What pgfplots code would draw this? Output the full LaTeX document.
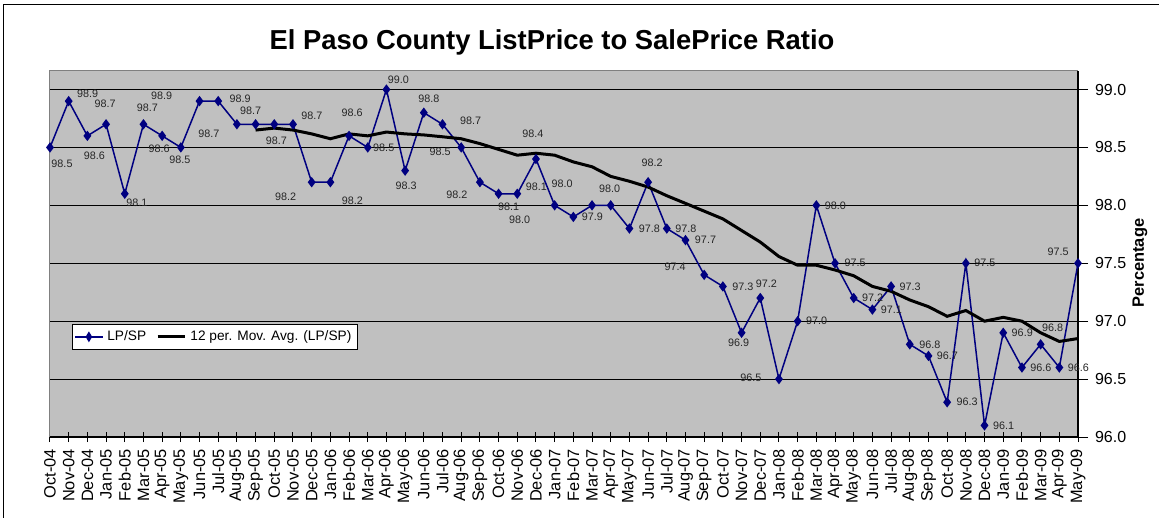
\documentclass[border=0pt]{standalone}
\usepackage{fontspec}
\setmainfont{Liberation Sans}
\usepackage{pgfplots}
\usepackage{pgfplotstable}
\pgfplotsset{compat=1.18}
\definecolor{plotbg}{RGB}{192,192,192}
\definecolor{navyline}{RGB}{0,0,128}

\pgfplotstableread{
x y dx dy
0 98.5 12 16
1 98.9 19 -7
2 98.6 7 20
3 98.7 -1 -20
4 98.1 12 9
5 98.7 4 -16
6 98.6 -3 13
7 98.5 -1 12
8 98.9 -38 -5
9 98.9 22 -2
10 98.7 -28 10
11 98.7 -5 -13
12 98.7 2 17
13 98.7 19 -8
14 98.2 -26 15
15 98.2 22 19
16 98.6 3 -23
17 98.5 16 0
18 99.0 12 -10
19 98.3 1 15
20 98.8 5 -14
21 98.7 28 -3
22 98.5 -21 4
23 98.2 -23 13
24 98.1 10 13
25 98.1 19 -7
26 98.4 -3 -25
27 98.0 -35 14
28 97.9 19 0
29 98.0 -30 -22
30 98.0 -1 -17
31 97.8 20 0
32 98.2 4 -19
33 97.8 19 0
34 97.7 20 0
35 97.4 -29 -8
36 97.3 20 0
37 96.9 -3 10
38 97.2 6 -14
39 96.5 -28 -1
40 97.0 19 0
41 98.0 19 0
42 97.5 20 0
43 97.2 19 0
44 97.1 19 0
45 97.3 19 0
46 96.8 20 0
47 96.7 19 0
48 96.3 20 0
49 97.5 19 0
50 96.1 19 0
51 96.9 19 0
52 96.6 19 0
53 96.8 12 -17
54 96.6 19 0
55 97.5 -20 -11
}\lpsp

\pgfplotstableread{
x y
11 98.650
12 98.667
13 98.650
14 98.617
15 98.575
16 98.617
17 98.600
18 98.633
19 98.617
20 98.608
21 98.592
22 98.575
23 98.533
24 98.483
25 98.433
26 98.450
27 98.433
28 98.375
29 98.333
30 98.250
31 98.208
32 98.158
33 98.083
34 98.017
35 97.950
36 97.883
37 97.783
38 97.683
39 97.558
40 97.483
41 97.483
42 97.442
43 97.392
44 97.300
45 97.258
46 97.183
47 97.125
48 97.042
49 97.092
50 97.000
51 97.033
52 97.000
53 96.900
54 96.825
55 96.850
}\mavg

\pgfplotsset{/pgf/number format/assume math mode=true}

\begin{document}
\begin{tikzpicture}
\useasboundingbox (-25pt,-40.5pt) rectangle (554.5pt,218.5pt);
\draw[black, line width=0.5pt] (-23.5pt,-41pt) -- (-23.5pt,216pt) -- (555pt,216pt);
\begin{axis}[
  at={(0pt,0pt)}, anchor=south west,
  scale only axis, width=514pt, height=183pt,
  xmin=0, xmax=55, ymin=96, ymax=99.16,
  clip=false,
  axis background/.style={fill=plotbg},
  axis x line*=bottom, axis y line*=right,
  axis line style={-, black, line width=0.6pt},
  xtick={0,...,55},
  xticklabels={Oct-04,Nov-04,Dec-04,Jan-05,Feb-05,Mar-05,Apr-05,May-05,Jun-05,Jul-05,Aug-05,Sep-05,Oct-05,Nov-05,Dec-05,Jan-06,Feb-06,Mar-06,Apr-06,May-06,Jun-06,Jul-06,Aug-06,Sep-06,Oct-06,Nov-06,Dec-06,Jan-07,Feb-07,Mar-07,Apr-07,May-07,Jun-07,Jul-07,Aug-07,Sep-07,Oct-07,Nov-07,Dec-07,Jan-08,Feb-08,Mar-08,Apr-08,May-08,Jun-08,Jul-08,Aug-08,Sep-08,Oct-08,Nov-08,Dec-08,Jan-09,Feb-09,Mar-09,Apr-09,May-09},
  xtick align=center,
  ytick={96,96.5,97,97.5,98,98.5,99},
  ytick align=outside,
  major tick length=5pt,
  tick style={black, line width=0.5pt},
  ymajorgrids, grid style={black, line width=0.5pt},
  y tick label style={font=\fontsize{8}{9}\selectfont, /pgf/number format/.cd, fixed, fixed zerofill, precision=1, /tikz/.cd},
  x tick label style={rotate=90, anchor=east, font=\fontsize{8.2}{9}\selectfont},
  legend style={at={(0.0214,0.309)}, anchor=north west, draw=black, fill=white,
    line width=0.5pt, font=\fontsize{6.85}{8}\selectfont, inner sep=1pt,
    /tikz/every even column/.append style={column sep=3pt}},
  legend image post style={xscale=0.8},
  legend columns=2, legend cell align=left,
]
\addplot[navyline, line width=0.75pt, mark=diamond*, mark size=2pt,
  mark options={fill=navyline, solid},
  point meta=\thisrow{y},
  visualization depends on={\thisrow{dx} \as \dx},
  visualization depends on={\thisrow{dy} \as \dy},
  nodes near coords={\pgfmathprintnumber[fixed,fixed zerofill,precision=1]{\pgfplotspointmeta}},
  every node near coord/.append style={font=\fontsize{5.4}{6}\selectfont, text=black!85, anchor=center, inner sep=0pt, xshift={(\dx)*0.5pt}, yshift={-1*(\dy)*0.5pt}},
] table[x=x, y=y] {\lpsp};
\addlegendentry{LP/SP}
\addplot[black, line width=1.5pt, no marks] table[x=x, y=y] {\mavg};
\addlegendentry{12 per. Mov. Avg. (LP/SP)}
\draw[gray, line width=0.5pt] (rel axis cs:0,0) -- (rel axis cs:0,1) -- (rel axis cs:1,1);
\end{axis}
\node[font=\fontsize{13.7}{16}\selectfont\bfseries] at (251pt,197.5pt) {El Paso County ListPrice to SalePrice Ratio};
\node[rotate=90, font=\fontsize{8.2}{10}\selectfont\bfseries] at (545pt,87pt) {Percentage};
\end{tikzpicture}
\end{document}
